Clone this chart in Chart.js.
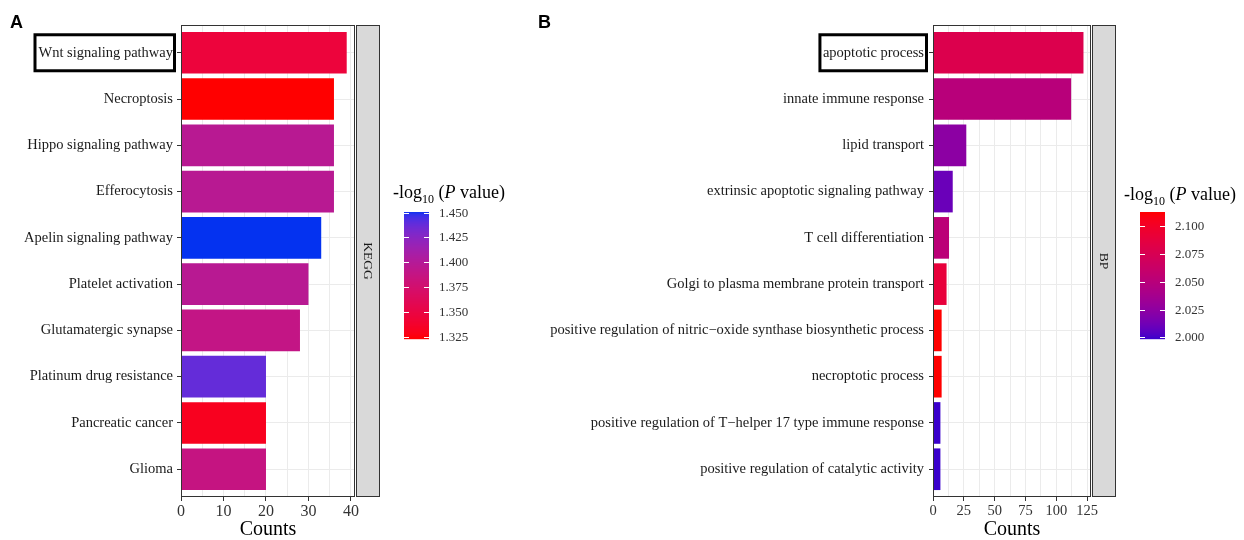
<!DOCTYPE html>
<html>
<head>
<meta charset="utf-8">
<script src="https://cdn.jsdelivr.net/npm/chart.js@4.4.0/dist/chart.umd.min.js"></script>
<style>
html, body { margin: 0; padding: 0; background: #fff; }
#wrap { position: relative; width: 1244px; height: 540px; overflow: hidden; }
canvas { position: absolute; top: 0; }
#chartA { left: 0; }
#chartB { left: 530px; }
</style>
</head>
<body>
<div id="wrap">
    <canvas id="chartA" width="530" height="540"></canvas>
    <canvas id="chartB" width="714" height="540"></canvas>
</div>
<script>
// KEGG panel (A)
const keggTerms = [
    'Wnt signaling pathway', 'Necroptosis', 'Hippo signaling pathway', 'Efferocytosis',
    'Apelin signaling pathway', 'Platelet activation', 'Glutamatergic synapse',
    'Platinum drug resistance', 'Pancreatic cancer', 'Glioma'
];
const keggCounts = [39, 36, 36, 36, 33, 30, 28, 20, 20, 20];
const keggLogP = [1.346, 1.323, 1.397, 1.397, 1.4506, 1.397, 1.389, 1.438, 1.332, 1.387];
const keggCountTicks = [0, 10, 20, 30, 40];
const keggLegendTicks = [1.325, 1.350, 1.375, 1.400, 1.425, 1.450];

// GO BP panel (B)
const bpTerms = [
    'apoptotic process', 'innate immune response', 'lipid transport',
    'extrinsic apoptotic signaling pathway', 'T cell differentiation',
    'Golgi to plasma membrane protein transport',
    'positive regulation of nitric\u2212oxide synthase biosynthetic process',
    'necroptotic process', 'positive regulation of T\u2212helper 17 type immune response',
    'positive regulation of catalytic activity'
];
const bpCounts = [122, 112, 27, 16, 13, 11, 7, 7, 6, 6];
const bpLogP = [2.079, 2.050, 2.024, 2.010, 2.052, 2.090, 2.113, 2.113, 1.9985, 1.9985];
const bpCountTicks = [0, 25, 50, 75, 100, 125];
const bpLegendTicks = [2.000, 2.025, 2.050, 2.075, 2.100];

const SERIF = '"Liberation Serif", "Times New Roman", serif';

// colour ramp in CIELAB, like ggplot's gradient scale
function hexToLab(hex) {
    const n = parseInt(hex.slice(1), 16);
    const lin = c => { c /= 255; return c <= 0.04045 ? c / 12.92 : Math.pow((c + 0.055) / 1.055, 2.4); };
    const r = lin((n >> 16) & 255), g = lin((n >> 8) & 255), b = lin(n & 255);
    const x = (0.4124 * r + 0.3576 * g + 0.1805 * b) / 0.95047;
    const y = 0.2126 * r + 0.7152 * g + 0.0722 * b;
    const z = (0.0193 * r + 0.1192 * g + 0.9505 * b) / 1.08883;
    const f = t => t > 0.008856 ? Math.cbrt(t) : 7.787 * t + 16 / 116;
    const fx = f(x), fy = f(y), fz = f(z);
    return [116 * fy - 16, 500 * (fx - fy), 200 * (fy - fz)];
}

function labToRgb(L, a, b) {
    const fy = (L + 16) / 116, fx = fy + a / 500, fz = fy - b / 200;
    const inv = t => t * t * t > 0.008856 ? t * t * t : (t - 16 / 116) / 7.787;
    const x = inv(fx) * 0.95047, y = inv(fy), z = inv(fz) * 1.08883;
    const r = 3.2406 * x - 1.5372 * y - 0.4986 * z;
    const g = -0.9689 * x + 1.8758 * y + 0.0415 * z;
    const bl = 0.0557 * x - 0.2040 * y + 1.0570 * z;
    const gam = c => {
        c = c <= 0.0031308 ? 12.92 * c : 1.055 * Math.pow(Math.max(c, 0), 1 / 2.4) - 0.055;
        return Math.round(Math.min(1, Math.max(0, c)) * 255);
    };
    return `rgb(${gam(r)},${gam(g)},${gam(bl)})`;
}

function makeRamp(low, high, min, max) {
    const a = hexToLab(low), b = hexToLab(high);
    return v => {
        const t = Math.min(1, Math.max(0, (v - min) / (max - min)));
        return labToRgb(a[0] + (b[0] - a[0]) * t, a[1] + (b[1] - a[1]) * t, a[2] + (b[2] - a[2]) * t);
    };
}

const panelPlugin = {
    id: 'panel',
    afterDraw(chart, args, opts) {
        const ctx = chart.ctx;
        const { left, right, top, bottom } = chart.chartArea;
        ctx.save();

        // panel border
        ctx.strokeStyle = '#333';
        ctx.lineWidth = 1;
        ctx.strokeRect(left + 0.5, top + 0.5, right - left - 1, bottom - top - 1);

        // facet strip
        const sx = right + 1;
        ctx.fillStyle = '#D9D9D9';
        ctx.fillRect(sx, top, 24, bottom - top);
        ctx.strokeRect(sx + 0.5, top + 0.5, 23, bottom - top - 1);
        ctx.save();
        ctx.translate(sx + 12, (top + bottom) / 2);
        ctx.rotate(Math.PI / 2);
        ctx.fillStyle = '#1a1a1a';
        ctx.font = '13.5px ' + SERIF;
        ctx.textAlign = 'center';
        ctx.textBaseline = 'middle';
        ctx.fillText(opts.strip, 0, 0);
        ctx.restore();

        // x title
        ctx.fillStyle = '#000';
        ctx.font = '20px ' + SERIF;
        ctx.textAlign = 'center';
        ctx.textBaseline = 'alphabetic';
        ctx.fillText('Counts', (left + right) / 2, 535);

        // highlight box round one term
        const ys = chart.scales.y;
        const cy = ys.getPixelForValue(opts.highlight + 1);
        ctx.font = '14.5px ' + SERIF;
        const tw = ctx.measureText(opts.terms[opts.highlight]).width;
        const labelRight = left - 4 - opts.yPad;
        const x0 = labelRight - tw - opts.boxPadL;
        const x1 = left - 6.5;
        ctx.strokeStyle = '#000';
        ctx.lineWidth = 3;
        ctx.strokeRect(x0, cy - 18, x1 - x0, 36);

        // panel letter
        ctx.fillStyle = '#000';
        ctx.font = 'bold 18px "Liberation Sans", Arial, sans-serif';
        ctx.textAlign = 'left';
        ctx.fillText(opts.letter, opts.letterX, 28);

        // colour bar legend
        const bx = right + opts.barOffset, bw = 25, bt = 212, bh = 127;
        const lmin = opts.lmin, lmax = opts.lmax;
        for (let i = 0; i < bh; i++) {
            const v = lmin + (lmax - lmin) * (bh - i - 0.5) / bh;
            ctx.fillStyle = opts.ramp(v);
            ctx.fillRect(bx, bt + i, bw, 1.2);
        }
        ctx.strokeStyle = '#fff';
        ctx.lineWidth = 1;
        ctx.fillStyle = '#333';
        ctx.font = '13px ' + SERIF;
        ctx.textAlign = 'left';
        ctx.textBaseline = 'middle';
        opts.legendTicks.forEach(v => {
            const y = Math.round(bt + bh - (v - lmin) / (lmax - lmin) * bh) + 0.5;
            ctx.beginPath();
            ctx.moveTo(bx, y); ctx.lineTo(bx + 5, y);
            ctx.moveTo(bx + bw - 5, y); ctx.lineTo(bx + bw, y);
            ctx.stroke();
            ctx.fillText(v.toFixed(3), bx + bw + 10, y);
        });

        // legend title: -log10 (P value)
        let tx = right + opts.titleOffset;
        const ty = opts.titleY;
        ctx.fillStyle = '#000';
        ctx.textBaseline = 'alphabetic';
        const part = (txt, font, dy) => {
            ctx.font = font;
            ctx.fillText(txt, tx, ty + dy);
            tx += ctx.measureText(txt).width;
        };
        part('-log', '18px ' + SERIF, 0);
        part('10', '12px ' + SERIF, 5);
        part(' (', '18px ' + SERIF, 0);
        part('P', 'italic 18px ' + SERIF, 0);
        part(' value)', '18px ' + SERIF, 0);

        ctx.restore();
    }
};

function makeChart(id, terms, counts, logP, countTicks, legendTicks, o) {
    const lmin = Math.min(...logP), lmax = Math.max(...logP);
    const ramp = makeRamp(o.low, o.high, lmin, lmax);
    return new Chart(document.getElementById(id), {
        type: 'bar',
        data: {
            datasets: [{
                data: counts.map((c, i) => ({ x: c, y: i + 1 })),
                backgroundColor: logP.map(ramp),
                borderWidth: 0,
                barPercentage: 0.9,
                categoryPercentage: 1
            }]
        },
        options: {
            indexAxis: 'y',
            responsive: false,
            animation: false,
            events: [],
            layout: { padding: { top: 25, right: o.padRight, left: 0, bottom: 0 } },
            plugins: {
                legend: { display: false },
                tooltip: { enabled: false },
                panel: {
                    strip: o.strip, terms: terms, highlight: 0, yPad: o.yPad, boxPadL: o.boxPadL,
                    letter: o.letter, letterX: o.letterX,
                    barOffset: 49, titleOffset: o.titleOffset, titleY: o.titleY,
                    lmin: lmin, lmax: lmax, ramp: ramp, legendTicks: legendTicks
                }
            },
            scales: {
                x: {
                    type: 'linear',
                    min: 0,
                    max: Math.max(...counts) * 1.05,
                    offset: false,
                    afterBuildTicks: s => {
                        const vals = [];
                        countTicks.forEach((v, i) => {
                            vals.push(v);
                            if (i < countTicks.length - 1) vals.push((v + countTicks[i + 1]) / 2);
                        });
                        s.ticks = vals.map(v => ({ value: v }));
                    },
                    afterFit: s => { s.height = 43; },
                    border: { display: false },
                    grid: {
                        offset: false,
                        color: '#EBEBEB',
                        lineWidth: 1,
                        tickLength: 4,
                        tickWidth: 1,
                        tickColor: c => (c.tick && countTicks.includes(c.tick.value)) ? '#333' : 'rgba(0,0,0,0)'
                    },
                    ticks: {
                        autoSkip: false,
                        maxRotation: 0,
                        padding: 1,
                        color: '#333',
                        font: { family: SERIF, size: o.xTickSize },
                        callback: v => countTicks.includes(v) ? String(v) : ''
                    }
                },
                y: {
                    type: 'linear',
                    reverse: true,
                    min: 0.4,
                    max: terms.length + 0.6,
                    offset: false,
                    afterBuildTicks: s => { s.ticks = terms.map((t, i) => ({ value: i + 1 })); },
                    afterFit: s => { s.width = o.axisWidth; },
                    border: { display: false },
                    grid: { offset: false, color: '#EBEBEB', lineWidth: 1, tickLength: 4, tickWidth: 1, tickColor: '#333' },
                    ticks: {
                        autoSkip: false,
                        padding: o.yPad,
                        color: '#1a1a1a',
                        font: { family: SERIF, size: 14.5 },
                        callback: v => terms[v - 1]
                    }
                }
            }
        },
        plugins: [panelPlugin]
    });
}

makeChart('chartA', keggTerms, keggCounts, keggLogP, keggCountTicks, keggLegendTicks, {
    low: '#FF0000', high: '#0432F0', strip: 'KEGG', letter: 'A', letterX: 10,
    axisWidth: 181, padRight: 175, yPad: 4, boxPadL: 3.5, xTickSize: 16,
    titleOffset: 38, titleY: 198
});

makeChart('chartB', bpTerms, bpCounts, bpLogP, bpCountTicks, bpLegendTicks, {
    low: '#3A00CC', high: '#FF0000', strip: 'BP', letter: 'B', letterX: 8,
    axisWidth: 403, padRight: 153, yPad: 5, boxPadL: 3, xTickSize: 14.5,
    titleOffset: 33, titleY: 200
});
</script>
</body>
</html>
